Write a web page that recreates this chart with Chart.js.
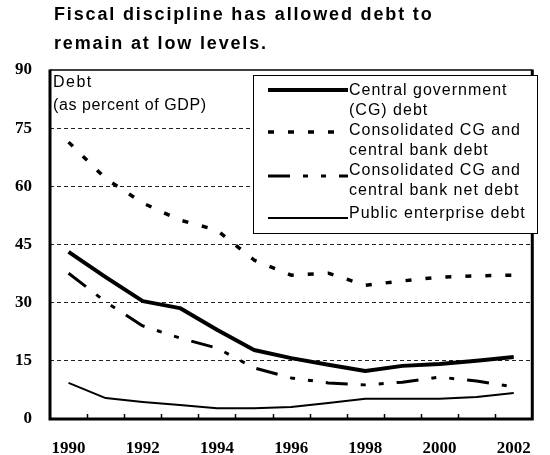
<!DOCTYPE html>
<html>
<head>
<meta charset="utf-8">
<script src="https://cdn.jsdelivr.net/npm/chart.js@4/dist/chart.umd.min.js"></script>
<style>
  body { margin: 0; background: #fff; }
  #wrap { position: relative; width: 550px; height: 455px; }
  #title {
    position: absolute; left: 54px; top: 0px;
    font: bold 18px "Liberation Sans", Arial, sans-serif;
    letter-spacing: 1.85px; line-height: 29px; color: #000;
  }
  canvas { position: absolute; left: 0; top: 0; }
</style>
</head>
<body>
<div id="wrap">
  <canvas id="chart" width="550" height="455"></canvas>
  <div id="title">Fiscal discipline has allowed debt to<br>remain at low levels.</div>
</div>
<script>
const years = ["1990", "1991", "1992", "1993", "1994", "1995", "1996", "1997", "1998", "1999", "2000", "2001", "2002"];
const cgDebt = [43.1, 36.6, 30.4, 28.6, 23.0, 17.8, 15.7, 14.0, 12.4, 13.7, 14.2, 15.0, 16.0];
const consDebt = [71.4, 62.0, 55.7, 51.3, 48.7, 41.0, 37.1, 37.6, 34.5, 35.6, 36.6, 36.9, 37.1];
const consNetDebt = [37.6, 30.2, 24.0, 20.9, 18.3, 13.2, 10.6, 9.3, 8.8, 9.5, 10.8, 9.8, 8.3];
const publicDebt = [9.3, 5.4, 4.4, 3.6, 2.8, 2.8, 3.1, 4.1, 5.2, 5.2, 5.2, 5.7, 6.7];
const yTicks = [0, 15, 30, 45, 60, 75, 90];
const legendLabels = [
  ["Central government", "(CG) debt"],
  ["Consolidated CG and", "central bank debt"],
  ["Consolidated CG and", "central bank net debt"],
  ["Public enterprise debt"]
];
const axisLabel = ["Debt", "(as percent of GDP)"];

const sansFont = '"Liberation Sans", Arial, sans-serif';
const serifFont = '"Liberation Serif", "Times New Roman", serif';

// frame, inner x ticks, the "Debt" note and the boxed legend
const decorations = {
  id: "decorations",
  afterDraw(chart) {
    const ctx = chart.ctx;
    const a = chart.chartArea;
    const x = chart.scales.x;
    ctx.save();

    // small tick marks pointing into the plot, between categories
    const step = (a.right - a.left) / years.length;
    ctx.strokeStyle = "#000";
    ctx.lineWidth = 1.5;
    for (let i = 1; i < years.length; i++) {
      const px = Math.round(x.getPixelForValue(i) - step / 2) + 0.5;
      ctx.beginPath();
      ctx.moveTo(px, a.bottom);
      ctx.lineTo(px, a.bottom - 5);
      ctx.stroke();
    }

    // plot frame
    ctx.lineWidth = 1.5;
    ctx.beginPath();
    ctx.moveTo(a.left, a.top);
    ctx.lineTo(a.right, a.top);
    ctx.stroke();
    ctx.lineWidth = 3;
    ctx.beginPath();
    ctx.moveTo(a.left, a.top - 0.5);
    ctx.lineTo(a.left, a.bottom);
    ctx.lineTo(a.right, a.bottom);
    ctx.lineTo(a.right, a.top - 0.5);
    ctx.stroke();

    // unit note
    ctx.fillStyle = "#000";
    ctx.font = "16px " + sansFont;
    ctx.letterSpacing = "1.5px";
    ctx.textBaseline = "middle";
    ctx.textAlign = "left";
    ctx.fillText(axisLabel[0], a.left + 3, 83);
    ctx.letterSpacing = "0.6px";
    ctx.fillText(axisLabel[1], a.left + 3, 106);

    // legend box
    const bx = 253, by = 75, bw = 284, bh = 158;
    ctx.fillStyle = "#fff";
    ctx.fillRect(bx, by, bw, bh);
    ctx.strokeStyle = "#000";
    ctx.lineWidth = 1;
    ctx.strokeRect(bx + 0.5, by + 0.5, bw, bh);

    const rowTop = [91, 131, 171, 214];
    const sampleShift = [-1, 1, 5, 4];
    ctx.letterSpacing = "1px";
    chart.data.datasets.forEach((ds, i) => {
      const sy = rowTop[i] + sampleShift[i];
      ctx.save();
      ctx.strokeStyle = ds.borderColor;
      ctx.lineWidth = ds.borderWidth;
      ctx.setLineDash(ds.borderDash || []);
      ctx.beginPath();
      ctx.moveTo(268, sy);
      ctx.lineTo(348, sy);
      ctx.stroke();
      ctx.restore();
      ctx.fillStyle = "#000";
      legendLabels[i].forEach((t, j) => ctx.fillText(t, 349, rowTop[i] + j * 20));
    });
    ctx.restore();
  }
};

new Chart(document.getElementById("chart"), {
  type: "line",
  data: {
    labels: years,
    datasets: [
      { label: "Central government (CG) debt", data: cgDebt, borderColor: "#000", borderWidth: 4, borderDash: [] },
      { label: "Consolidated CG and central bank debt", data: consDebt, borderColor: "#000", borderWidth: 3.5, borderDash: [6, 14] },
      { label: "Consolidated CG and central bank net debt", data: consNetDebt, borderColor: "#000", borderWidth: 3, borderDash: [22, 13, 5, 13, 5, 13] },
      { label: "Public enterprise debt", data: publicDebt, borderColor: "#000", borderWidth: 2, borderDash: [] }
    ]
  },
  options: {
    responsive: false,
    devicePixelRatio: 1,
    animation: false,
    layout: { padding: { top: 70, right: 7, left: 0, bottom: 0 } },
    elements: {
      point: { radius: 0 },
      line: { tension: 0, borderCapStyle: "butt", borderJoinStyle: "round" }
    },
    plugins: {
      legend: { display: false },
      title: { display: false },
      tooltip: { enabled: false }
    },
    scales: {
      x: {
        offset: true,
        grid: { display: false, drawTicks: false },
        border: { display: false },
        ticks: {
          autoSkip: false,
          maxRotation: 0,
          padding: 19,
          color: "#000",
          font: { family: serifFont, size: 17, weight: "bold" },
          callback: (v, i) => (i % 2 === 0 ? years[i] : "")
        },
        afterFit: s => { s.height = 36; }
      },
      y: {
        min: 0,
        max: 90,
        afterBuildTicks: s => { s.ticks = yTicks.map(v => ({ value: v })); },
        grid: {
          drawTicks: false,
          color: c => (c.tick.value === 0 || c.tick.value === 90 ? "rgba(0,0,0,0)" : "#222"),
          lineWidth: 1
        },
        border: { display: false, dash: [4, 3] },
        ticks: {
          padding: 18,
          color: "#000",
          font: { family: serifFont, size: 17, weight: "bold" }
        },
        afterFit: s => { s.width = 50; }
      }
    }
  },
  plugins: [decorations]
});
</script>
</body>
</html>
